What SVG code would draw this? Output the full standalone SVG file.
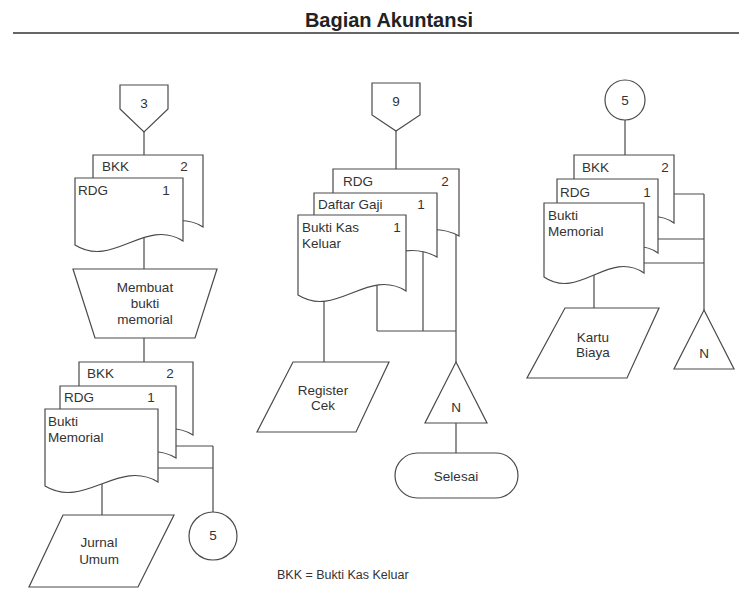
<svg xmlns="http://www.w3.org/2000/svg" width="739" height="590" viewBox="0 0 739 590">
<style>
.s{fill:#fff;stroke:#4a4a4a;stroke-width:1.2}
.c{fill:none;stroke:#4a4a4a;stroke-width:1.2}
text{font-family:"Liberation Sans",Arial,sans-serif;font-size:13.5px;fill:#333}
.m{text-anchor:middle}
.t{font-size:20px;font-weight:bold;fill:#222}
</style>
<rect width="739" height="590" fill="#fff"/>
<g id="title">
<text class="t m" x="389" y="27">Bagian Akuntansi</text>
<line x1="13" y1="33" x2="739" y2="33" stroke="#333" stroke-width="1.6"/>
</g>
<g id="connectors" class="c">
<path d="M144,132V155M144,235V269M144,338V362M102,480V515M176,446H213M158,468H213M213,446V512"/>
<path d="M396,131V169M324,290V362M377,280V331M423,250V331M456,230V362M377,331H456M456,423V453"/>
<path d="M625,120V155M674,194H704M658,239H704M644,263H704M704,194V310M594,275V308"/>
</g>
<g id="conn3"><path class="s" d="M120,85H168V109L144,132L120,109Z"/><text class="m" x="144" y="108">3</text></g>
<g id="doc-bkk-a"><path class="s" d="M93,155H203V227C164.5,203 131.5,255 93,231Z"/><text x="102" y="171">BKK</text><text class="m" x="184" y="171">2</text></g>
<g id="doc-rdg-a"><path class="s" d="M75,178H183V241C145,217 113,269 75,245Z"/><text x="78" y="195">RDG</text><text class="m" x="166" y="195">1</text></g>
<g id="proc-membuat"><path class="s" d="M73,269H217L195,338H95Z"/><text class="m" x="145" y="292">Membuat</text><text class="m" x="145" y="308">bukti</text><text class="m" x="145" y="324">memorial</text></g>
<g id="doc-bkk-b"><path class="s" d="M79,362H193V435C153,411 119,463 79,439Z"/><text x="87" y="378">BKK</text><text class="m" x="170" y="378">2</text></g>
<g id="doc-rdg-b"><path class="s" d="M60,386H176V458C135,434 101,486 60,462Z"/><text x="64" y="402">RDG</text><text class="m" x="151" y="402">1</text></g>
<g id="doc-bm-a"><path class="s" d="M45,409H158V482C118.5,458 84.5,510 45,486Z"/><text x="48" y="426">Bukti</text><text x="48" y="442">Memorial</text></g>
<g id="conn5-a"><circle class="s" cx="213" cy="536" r="24"/><text class="m" x="213" y="540">5</text></g>
<g id="jurnal-umum"><path class="s" d="M63,515H174L138,587H29Z"/><text class="m" x="99" y="547">Jurnal</text><text class="m" x="99" y="564">Umum</text></g>
<g id="conn9"><path class="s" d="M372,83H420V115L396,131L372,115Z"/><text class="m" x="396" y="106">9</text></g>
<g id="doc-rdg-c"><path class="s" d="M333,169H459V236C415,212 377,264 333,240Z"/><text x="343" y="186">RDG</text><text class="m" x="445" y="186">2</text></g>
<g id="doc-daftar-gaji"><path class="s" d="M314,193H437V257C394,233 357,285 314,261Z"/><text x="318" y="209">Daftar Gaji</text><text class="m" x="421" y="209">1</text></g>
<g id="doc-bkk-c"><path class="s" d="M298,215H406V291C368,267 336,319 298,295Z"/><text x="302" y="232">Bukti Kas</text><text class="m" x="397" y="232">1</text><text x="302" y="248">Keluar</text></g>
<g id="register-cek"><path class="s" d="M293,362H389L356,432H257Z"/><text class="m" x="323" y="395">Register</text><text class="m" x="323" y="410">Cek</text></g>
<g id="arsip-n-a"><path class="s" d="M456,362L487,423H425Z"/><text class="m" x="456" y="412">N</text></g>
<g id="selesai"><rect class="s" x="395" y="453" width="123" height="45" rx="22.5"/><text class="m" x="456" y="481">Selesai</text></g>
<g id="conn5-b"><circle class="s" cx="625" cy="100" r="20"/><text class="m" x="625" y="105">5</text></g>
<g id="doc-bkk-d"><path class="s" d="M574,155H674V223C639,199 609,251 574,227Z"/><text x="582" y="172">BKK</text><text class="m" x="665" y="172">2</text></g>
<g id="doc-rdg-d"><path class="s" d="M557,179H658V253C623,229 592,281 557,257Z"/><text x="560" y="197">RDG</text><text class="m" x="647" y="197">1</text></g>
<g id="doc-bm-b"><path class="s" d="M544,203H644V273C609,249 579,301 544,277Z"/><text x="548" y="220">Bukti</text><text x="548" y="236">Memorial</text></g>
<g id="kartu-biaya"><path class="s" d="M565,308H659L627,378H527Z"/><text class="m" x="593" y="342">Kartu</text><text class="m" x="593" y="357">Biaya</text></g>
<g id="arsip-n-b"><path class="s" d="M704,310L734,369H674Z"/><text class="m" x="704" y="358">N</text></g>
<g id="legend"><text x="277" y="579" style="font-size:12.5px">BKK = Bukti Kas Keluar</text></g>
</svg>
